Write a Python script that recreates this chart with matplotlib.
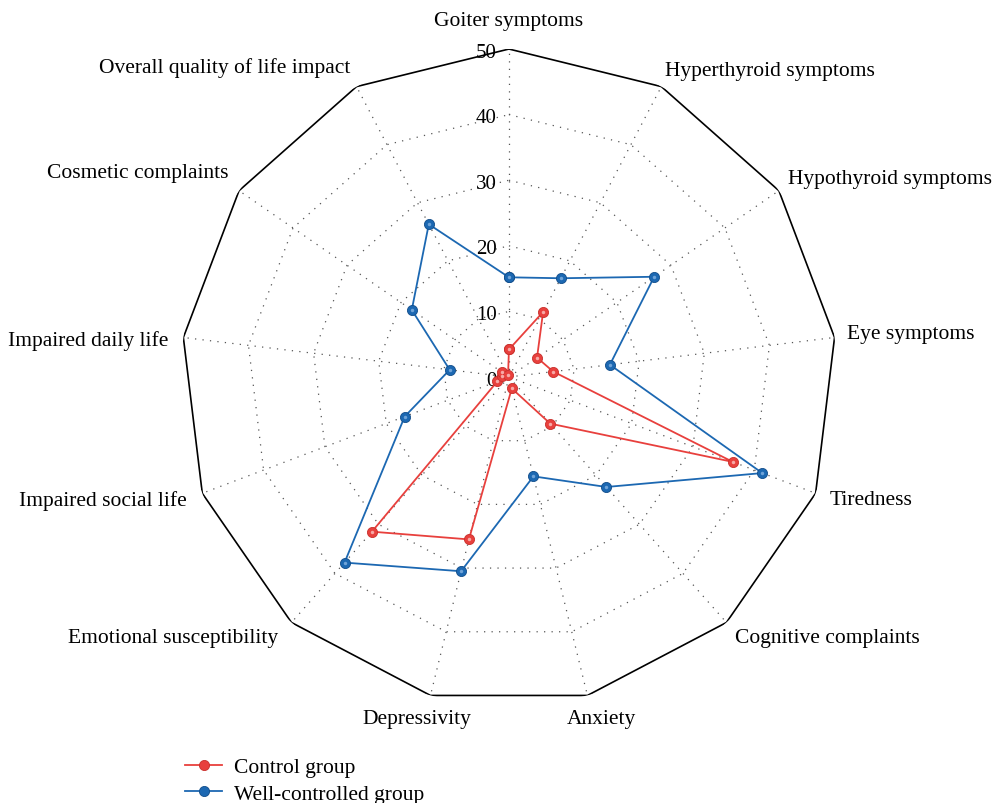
import numpy as np
import matplotlib
matplotlib.use('Agg')
import matplotlib.pyplot as plt

plt.rcParams['font.family'] = ['Liberation Serif', 'DejaVu Serif']

# 数据
categories = ['Goiter symptoms', 'Hyperthyroid symptoms', 'Hypothyroid symptoms',
              'Eye symptoms', 'Tiredness', 'Cognitive complaints', 'Anxiety',
              'Depressivity', 'Emotional susceptibility', 'Impaired social life',
              'Impaired daily life', 'Cosmetic complaints',
              'Overall quality of life impact']
control = [4.2, 11.2, 5.2, 6.8, 36.5, 9.5, 1.8, 25.5, 31.5, 1.9, 1.0, 1.3, 0.3]
well_controlled = [15.2, 17.0, 26.9, 15.5, 41.3, 22.4, 15.6, 30.5, 37.8, 17.0, 9.1, 18.0, 26.3]
rticks = [0, 10, 20, 30, 40, 50]

# 标签位置偏移(像素) 及对齐
lab_off = [(0, 29), (3.5, 16.5), (9, 11.7), (12.4, 3.5), (14.3, -6.5), (8.5, -15.4),
           (14, -23.5), (-14, -23.5), (-13.5, -15.4), (-15.3, -6.5), (-15.4, -2.5),
           (-11, 17.7), (-6.5, 19.5)]
lab_ha = ['center', 'left', 'left', 'left', 'left', 'left', 'center', 'center',
          'right', 'right', 'right', 'right', 'right']

red = '#e8403d'
blue = '#1c68b2'
fs = 15.5

n = len(categories)
theta = np.arange(n) * 2 * np.pi / n

fig = plt.figure(figsize=(9.96, 8.04), dpi=100)
ax = fig.add_axes([0.1817, 0.1219, 0.6586, 0.8159], projection='polar')
ax.set_theta_zero_location('N')
ax.set_theta_direction(-1)
ax.set_ylim(0, 50)
ax.grid(False)
ax.spines['polar'].set_visible(False)
ax.set_xticks([])
ax.set_yticks([])

# 网格
tc = np.append(theta, theta[0])
for r in rticks[1:-1]:
    ax.plot(tc, [r] * len(tc), color='#555555', lw=0.9, ls=(0, (1, 5)), zorder=1)
ax.plot(tc, [50] * len(tc), color='black', lw=1.2, zorder=2)
for t in theta:
    ax.plot([t, t], [0, 50], color='#555555', lw=0.9, ls=(0, (1, 5)), zorder=1)

# 刻度
for r in rticks:
    ax.annotate(str(r), xy=(0, r), xytext=(-12, -3), textcoords='offset pixels',
                ha='right', va='center', fontsize=15)

# 类别标签
for t, lab, off, ha in zip(theta, categories, lab_off, lab_ha):
    ax.annotate(lab, xy=(t, 50), xytext=off, textcoords='offset pixels',
                ha=ha, va='center', fontsize=fs)

cc = np.append(control, control[0])
ww = np.append(well_controlled, well_controlled[0])
l1, = ax.plot(tc, cc, color=red, lw=1.3, marker='o', ms=7.3, mfc=red,
              mec='#c8302c', mew=0.6, label='Control group', zorder=4)
l2, = ax.plot(tc, ww, color=blue, lw=1.3, marker='o', ms=7.3, mfc=blue,
              mec='#124d8a', mew=0.6, label='Well-controlled group', zorder=3)
# 高光
ax.plot(theta, control, ls='none', marker='o', ms=2.5, mfc='#f7a9a6', mec='none', zorder=5)
ax.plot(theta, well_controlled, ls='none', marker='o', ms=2.5, mfc='#6fa3d8', mec='none', zorder=5)

fig.legend(handles=[l1, l2], loc='upper left', bbox_to_anchor=(185 / 996, 1 - 758 / 804),
           frameon=False, fontsize=fs, borderpad=0, borderaxespad=0,
           handlelength=1.72, handletextpad=0.56, labelspacing=0.3)

fig.savefig('out.png', dpi=100)
